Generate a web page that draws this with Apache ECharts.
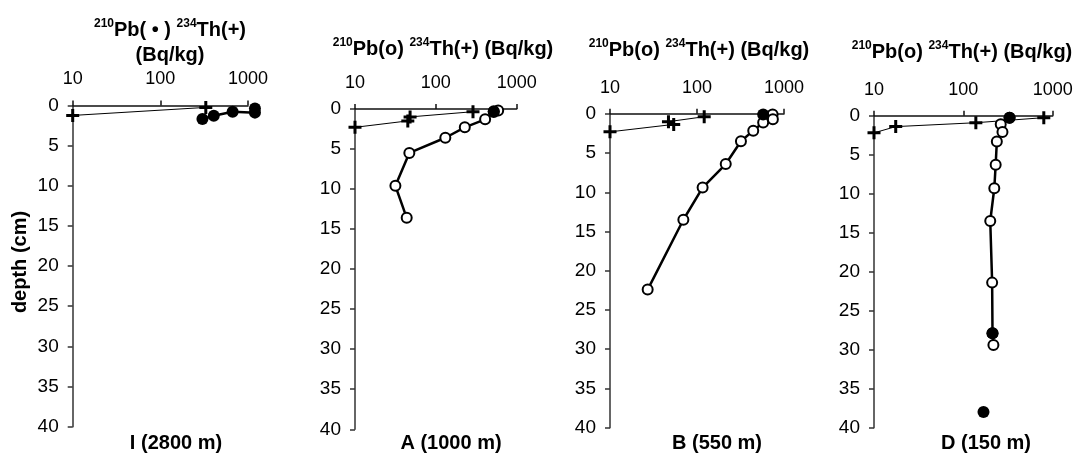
<!DOCTYPE html>
<html>
<head>
<meta charset="utf-8">
<title>210Pb and 234Th profiles</title>
<style>
	* { margin: 0; padding: 0; }
	html, body { width: 100%; height: 100%; background: #fff; }
	#box { width: 1078px; height: 454px; }
</style>
</head>
<body>
<div id="box"></div>
<script src="https://cdn.jsdelivr.net/npm/echarts@6/dist/echarts.min.js"></script>
<script>
// axis ranges
var depthRange = [0, 40];
var depthStep = 5;
var actRange = [10, 1000];

// station I (2800 m): activity Bq/kg, depth cm
var iThAct = [330, 10];
var iThDep = [0.25, 1.25];
var iPbAct = [1200, 1200, 668, 407, 302];
var iPbDep = [0.4, 0.9, 0.8, 1.3, 1.7];

// station A (1000 m)
var aThAct = [288, 48, 45, 10];
var aThDep = [0.35, 1.0, 1.5, 2.3];
var aPbAct = [590, 520, 407, 228, 131, 47, 31.6, 43.6];
var aPbDep = [0.2, 0.4, 1.3, 2.3, 3.6, 5.5, 9.6, 13.6];
var aFillAct = [520];
var aFillDep = [0.3];

// station B (550 m)
var bThAct = [121, 47, 54, 10];
var bThDep = [0.37, 1.0, 1.35, 2.3];
var bPbAct = [740, 745, 576, 443, 320, 214, 116, 69.7, 27.1];
var bPbDep = [0.1, 0.7, 1.1, 2.15, 3.5, 6.4, 9.4, 13.5, 22.4];
var bFillAct = [576];
var bFillDep = [0.1];

// station D (150 m)
var dThAct = [795, 138, 17.5, 10];
var dThDep = [0.25, 0.9, 1.4, 2.2];
var dPbAct = [329, 262, 274, 237, 230, 222, 200, 210, 212, 217];
var dPbDep = [0.25, 1.1, 2.1, 3.3, 6.3, 9.3, 13.5, 21.4, 27.9, 29.4];
var dFillAct = [329, 212, 168];
var dFillDep = [0.25, 27.9, 38.0];

var stationNames = ['I (2800 m)', 'A (1000 m)', 'B (550 m)', 'D (150 m)'];

var font = "'Liberation Sans', Arial, sans-serif";
var plus = 'path://M5,0H8V5H13V8H8V13H5V8H0V5H5Z';

function pairs(act, dep) {
	return act.map(function (v, i) { return [v, dep[i]]; });
}

var panels = [
	{ rect: [72.7, 105.4, 175.3, 321.3], th: [iThAct, iThDep], pb: [iPbAct, iPbDep], fill: null, solid: true, label: [176, 443] },
	{ rect: [355, 108.9, 161.7, 320.4], th: [aThAct, aThDep], pb: [aPbAct, aPbDep], fill: [aFillAct, aFillDep], label: [451, 443] },
	{ rect: [610, 113.8, 174, 313.9], th: [bThAct, bThDep], pb: [bPbAct, bPbDep], fill: [bFillAct, bFillDep], label: [717, 443] },
	{ rect: [874, 115.7, 178.7, 312], th: [dThAct, dThDep], pb: [dPbAct, dPbDep], fill: [dFillAct, dFillDep], label: [986, 443] }
];

var grids = [], xAxes = [], yAxes = [], series = [], graphics = [];

panels.forEach(function (p, k) {
	grids.push({ left: p.rect[0], top: p.rect[1], width: p.rect[2], height: p.rect[3] });
	xAxes.push({
		gridIndex: k, type: 'log', logBase: 10, min: actRange[0], max: actRange[1], position: 'top',
		axisLine: { show: true, onZero: false, lineStyle: { color: '#111', width: 1.5 } },
		axisTick: { show: true, length: 5, lineStyle: { color: '#111', width: 1.5 } },
		axisLabel: { margin: 17, fontSize: 18, color: '#000', fontFamily: font,
			formatter: function (v) { return String(Math.round(v)); } },
		splitLine: { show: false }
	});
	yAxes.push({
		gridIndex: k, type: 'value', inverse: true, min: depthRange[0], max: depthRange[1], interval: depthStep,
		axisLine: { show: true, onZero: false, lineStyle: { color: '#333', width: 1.5 } },
		axisTick: { show: true, length: 5, lineStyle: { color: '#333', width: 1.5 } },
		axisLabel: { margin: 14, fontSize: 19, color: '#000', fontFamily: font },
		splitLine: { show: false }
	});
	series.push({
		type: 'line', xAxisIndex: k, yAxisIndex: k, clip: false, z: 2,
		data: pairs(p.th[0], p.th[1]),
		symbol: plus, symbolSize: 13,
		lineStyle: { color: '#000', width: 1 },
		itemStyle: { color: '#000' }
	});
	series.push({
		type: 'line', xAxisIndex: k, yAxisIndex: k, clip: false, z: 3,
		data: pairs(p.pb[0], p.pb[1]),
		symbol: 'circle', symbolSize: p.solid ? 12 : 10,
		lineStyle: { color: '#000', width: 2.5 },
		itemStyle: p.solid ? { color: '#000' } : { color: '#fff', borderColor: '#000', borderWidth: 2 }
	});
	if (p.fill) {
		series.push({
			type: 'scatter', xAxisIndex: k, yAxisIndex: k, clip: false, z: 5,
			data: pairs(p.fill[0], p.fill[1]),
			symbol: 'circle', symbolSize: 12,
			itemStyle: { color: '#000', opacity: 1 }
		});
	}
	graphics.push({
		type: 'text', x: p.label[0], y: p.label[1],
		style: { text: stationNames[k], align: 'center', verticalAlign: 'middle',
			fontSize: 20, fontWeight: 'bold', fontFamily: font, fill: '#000' }
	});
});

var rich = {
	m: { fontSize: 20, fontWeight: 'bold', fontFamily: font, lineHeight: 24, verticalAlign: 'middle', color: '#000' },
	s: { fontSize: 12, fontWeight: 'bold', fontFamily: font, lineHeight: 14, verticalAlign: 'top', color: '#000' }
};

function titleText(x, y, text) {
	return { type: 'text', x: x, y: y,
		style: { text: text, rich: rich, align: 'center', verticalAlign: 'middle' } };
}

graphics.push(titleText(170, 30, '{s|210}{m|Pb( • ) }{s|234}{m|Th(+)}'));
graphics.push(titleText(170, 55, '{m|(Bq/kg)}'));
graphics.push(titleText(443, 49, '{s|210}{m|Pb(o) }{s|234}{m|Th(+) (Bq/kg)}'));
graphics.push(titleText(699, 50, '{s|210}{m|Pb(o) }{s|234}{m|Th(+) (Bq/kg)}'));
graphics.push(titleText(962, 52, '{s|210}{m|Pb(o) }{s|234}{m|Th(+) (Bq/kg)}'));
graphics.push({
	type: 'text', x: 20, y: 262, rotation: Math.PI / 2,
	style: { text: 'depth (cm)', align: 'center', verticalAlign: 'middle',
		fontSize: 20, fontWeight: 'bold', fontFamily: font, fill: '#000' }
});

var myChart = echarts.init(document.getElementById('box'));
myChart.setOption({
	animation: false,
	backgroundColor: '#fff',
	grid: grids,
	xAxis: xAxes,
	yAxis: yAxes,
	series: series,
	graphic: graphics
});
</script>
</body>
</html>
